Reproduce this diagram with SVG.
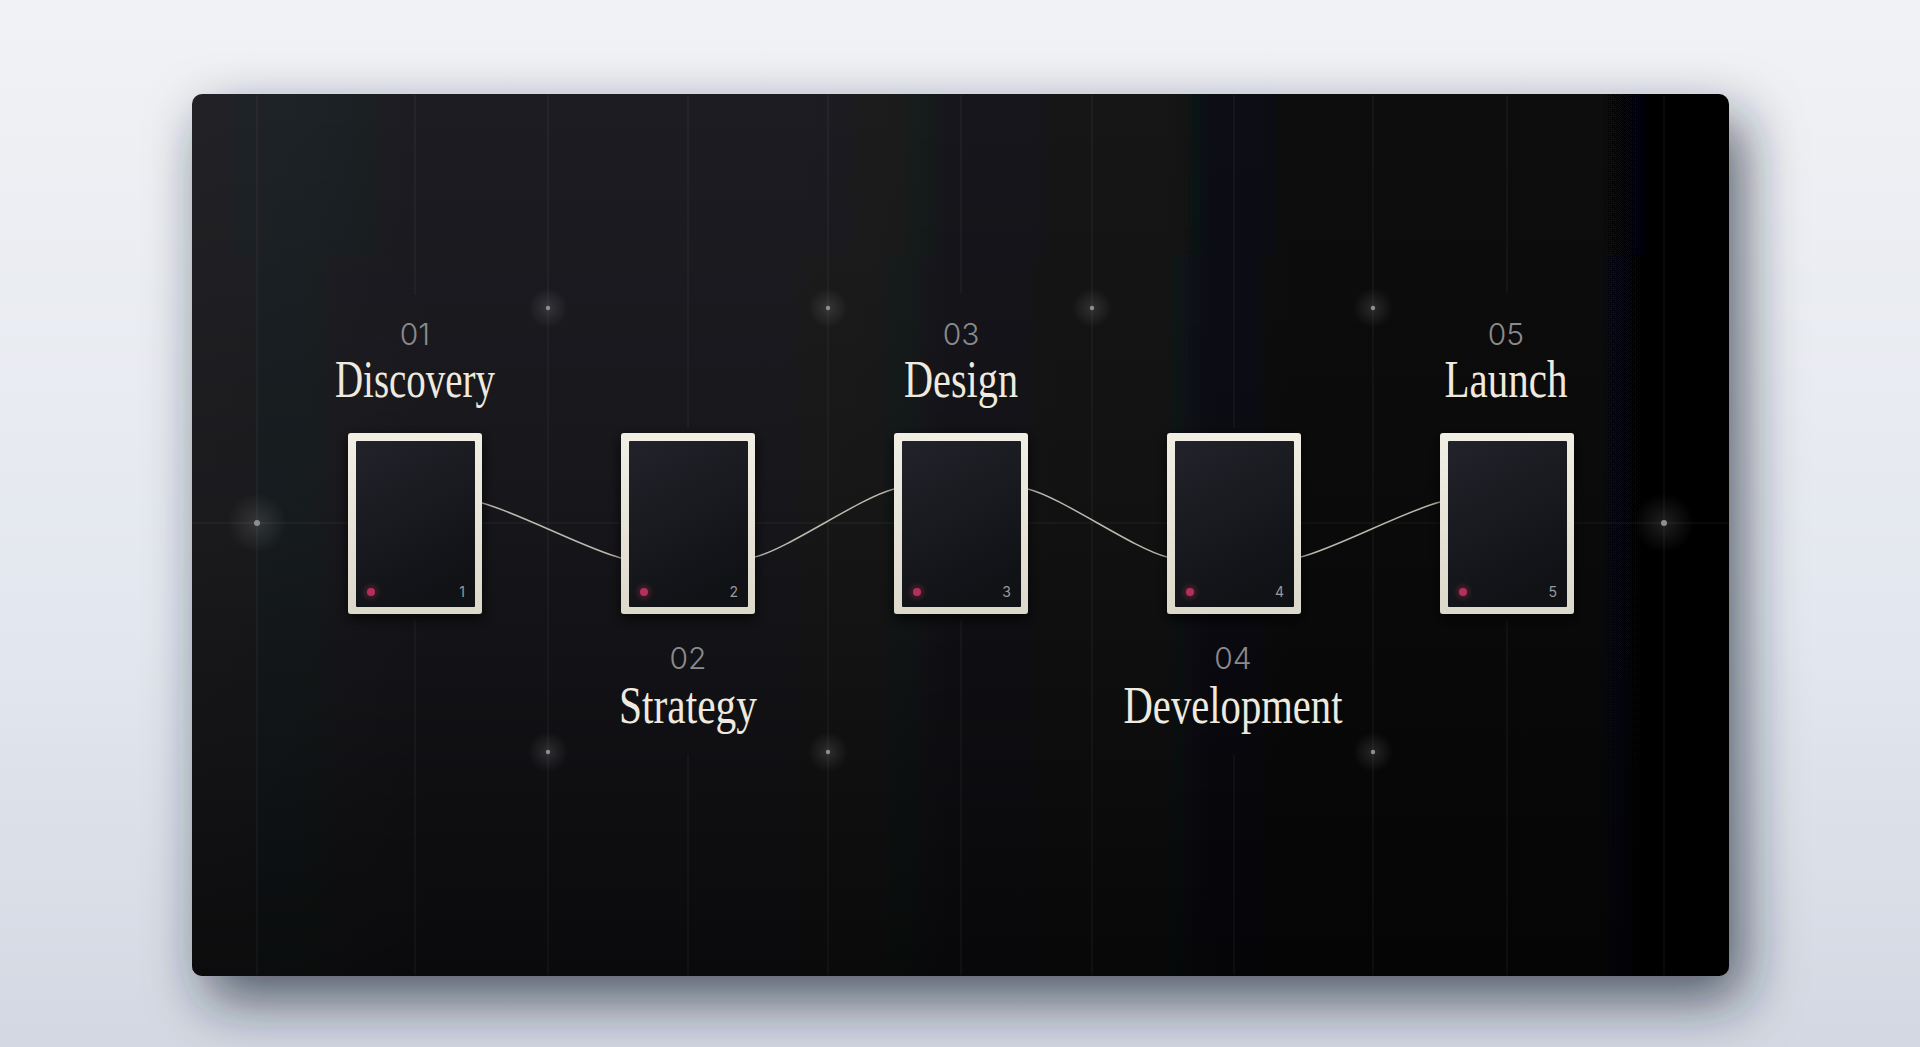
<svg xmlns="http://www.w3.org/2000/svg" width="1920" height="1047" viewBox="0 0 1920 1047">
  <defs>
    <linearGradient id="page" x1="0" y1="0" x2="0" y2="1">
      <stop offset="0" stop-color="#f1f2f5"/>
      <stop offset="0.6" stop-color="#e3e7ef"/>
      <stop offset="1" stop-color="#d3d8e2"/>
    </linearGradient>
    <linearGradient id="panelH" x1="0" y1="0" x2="1" y2="0">
      <stop offset="0" stop-color="#202126"/>
      <stop offset="0.45" stop-color="#1a1b1f"/>
      <stop offset="0.75" stop-color="#0d0d0f"/>
      <stop offset="1" stop-color="#040404"/>
    </linearGradient>
    <linearGradient id="panelV" x1="0" y1="0" x2="0" y2="1">
      <stop offset="0" stop-color="#000000" stop-opacity="0"/>
      <stop offset="0.45" stop-color="#000000" stop-opacity="0.2"/>
      <stop offset="1" stop-color="#000000" stop-opacity="0.65"/>
    </linearGradient>
    <linearGradient id="frame" x1="0" y1="0" x2="0" y2="1">
      <stop offset="0" stop-color="#f1eee4"/>
      <stop offset="1" stop-color="#dcd8ca"/>
    </linearGradient>
    <linearGradient id="inner" x1="0" y1="0" x2="0.4" y2="1">
      <stop offset="0" stop-color="#22232a"/>
      <stop offset="1" stop-color="#111216"/>
    </linearGradient>
    <radialGradient id="glow">
      <stop offset="0" stop-color="#ffffff" stop-opacity="0.12"/>
      <stop offset="1" stop-color="#ffffff" stop-opacity="0"/>
    </radialGradient>
    <radialGradient id="redglow">
      <stop offset="0" stop-color="#d0305a" stop-opacity="0.35"/>
      <stop offset="1" stop-color="#d0305a" stop-opacity="0"/>
    </radialGradient>
    <filter id="panelShadow" x="-10%" y="-10%" width="125%" height="135%">
      <feDropShadow dx="14" dy="24" stdDeviation="28" flood-color="#1c2233" flood-opacity="0.7"/>
    </filter>
    <filter id="cardShadow" x="-30%" y="-30%" width="160%" height="160%">
      <feDropShadow dx="0" dy="5" stdDeviation="7" flood-color="#000000" flood-opacity="0.7"/>
    </filter>
    <style>
      .grid { stroke: #ffffff; stroke-opacity: 0.07; stroke-width: 1; fill: none; }
      .num { font-family: Inter, "Liberation Sans", sans-serif; font-weight: 300; font-size: 30px; fill: #8a8a8c; text-anchor: middle; }
      .title { font-family: "Liberation Serif", "DejaVu Serif", serif; font-size: 53px; fill: #eeeadf; text-anchor: middle; }
      .cnum { font-family: Inter, "Liberation Sans", sans-serif; font-size: 14px; fill: #9a9a9c; text-anchor: end; }
      .conn { stroke: #d9d5c9; stroke-width: 1.5; fill: none; stroke-opacity: 0.85; }
      .dot { fill: #8e8e92; }
    </style>
  </defs>

  <rect x="0" y="0" width="1920" height="1047" fill="url(#page)"/>
  <rect id="panel-bg" x="192" y="94" width="1537" height="882" rx="10" fill="url(#panelH)" filter="url(#panelShadow)"/>
  <rect id="panel-shade" x="192" y="94" width="1537" height="882" rx="10" fill="url(#panelV)"/>

  <g id="grid">
    <line class="grid" x1="192" y1="523" x2="1729" y2="523"/>
    <line class="grid" x1="257" y1="95" x2="257" y2="975"/>
    <line class="grid" x1="548" y1="95" x2="548" y2="975"/>
    <line class="grid" x1="828" y1="95" x2="828" y2="975"/>
    <line class="grid" x1="1092" y1="95" x2="1092" y2="975"/>
    <line class="grid" x1="1373" y1="95" x2="1373" y2="975"/>
    <line class="grid" x1="1664" y1="95" x2="1664" y2="975"/>
    <line class="grid" x1="415" y1="95" x2="415" y2="295"/>
    <line class="grid" x1="415" y1="620" x2="415" y2="975"/>
    <line class="grid" x1="688" y1="95" x2="688" y2="428"/>
    <line class="grid" x1="688" y1="755" x2="688" y2="975"/>
    <line class="grid" x1="961" y1="95" x2="961" y2="293"/>
    <line class="grid" x1="961" y1="620" x2="961" y2="975"/>
    <line class="grid" x1="1234" y1="95" x2="1234" y2="428"/>
    <line class="grid" x1="1234" y1="755" x2="1234" y2="975"/>
    <line class="grid" x1="1507" y1="95" x2="1507" y2="293"/>
    <line class="grid" x1="1507" y1="620" x2="1507" y2="975"/>
  </g>

  <g id="glow-dots">
    <circle cx="257" cy="523" r="30" fill="url(#glow)"/><circle class="dot" cx="257" cy="523" r="3"/>
    <circle cx="1664" cy="523" r="30" fill="url(#glow)"/><circle class="dot" cx="1664" cy="523" r="3"/>
    <circle cx="548" cy="308" r="20" fill="url(#glow)"/><circle class="dot" cx="548" cy="308" r="2.2"/>
    <circle cx="828" cy="308" r="20" fill="url(#glow)"/><circle class="dot" cx="828" cy="308" r="2.2"/>
    <circle cx="1092" cy="308" r="20" fill="url(#glow)"/><circle class="dot" cx="1092" cy="308" r="2.2"/>
    <circle cx="1373" cy="308" r="20" fill="url(#glow)"/><circle class="dot" cx="1373" cy="308" r="2.2"/>
    <circle cx="548" cy="752" r="20" fill="url(#glow)"/><circle class="dot" cx="548" cy="752" r="2.2"/>
    <circle cx="828" cy="752" r="20" fill="url(#glow)"/><circle class="dot" cx="828" cy="752" r="2.2"/>
    <circle cx="1373" cy="752" r="20" fill="url(#glow)"/><circle class="dot" cx="1373" cy="752" r="2.2"/>
  </g>

  <g id="connectors">
    <path class="conn" d="M482 503 C517 512 586 549 621 558"/>
    <path class="conn" d="M755 557 C790 548 859 498 894 489"/>
    <path class="conn" d="M1028 489 C1063 498 1132 548 1167 557"/>
    <path class="conn" d="M1301 557 C1336 548 1405 511 1440 502"/>
  </g>

  <g id="step-1">
    <text class="num" x="415" y="345">01</text>
    <text class="title" x="415" y="397" textLength="160" lengthAdjust="spacingAndGlyphs">Discovery</text>
    <rect x="348" y="433" width="134" height="181" rx="3" fill="url(#frame)" filter="url(#cardShadow)"/>
    <rect x="356" y="441" width="119" height="166" rx="1" fill="url(#inner)"/>
    <circle cx="371" cy="592" r="10" fill="url(#redglow)"/>
    <circle cx="371" cy="592" r="4" fill="#b3305a"/>
    <text class="cnum" x="465" y="597">1</text>
  </g>

  <g id="step-2">
    <rect x="621" y="433" width="134" height="181" rx="3" fill="url(#frame)" filter="url(#cardShadow)"/>
    <rect x="629" y="441" width="119" height="166" rx="1" fill="url(#inner)"/>
    <circle cx="644" cy="592" r="10" fill="url(#redglow)"/>
    <circle cx="644" cy="592" r="4" fill="#b3305a"/>
    <text class="cnum" x="738" y="597">2</text>
    <text class="num" x="688" y="669">02</text>
    <text class="title" x="688" y="723" textLength="138" lengthAdjust="spacingAndGlyphs">Strategy</text>
  </g>

  <g id="step-3">
    <text class="num" x="961" y="345">03</text>
    <text class="title" x="961" y="397" textLength="114" lengthAdjust="spacingAndGlyphs">Design</text>
    <rect x="894" y="433" width="134" height="181" rx="3" fill="url(#frame)" filter="url(#cardShadow)"/>
    <rect x="902" y="441" width="119" height="166" rx="1" fill="url(#inner)"/>
    <circle cx="917" cy="592" r="10" fill="url(#redglow)"/>
    <circle cx="917" cy="592" r="4" fill="#b3305a"/>
    <text class="cnum" x="1011" y="597">3</text>
  </g>

  <g id="step-4">
    <rect x="1167" y="433" width="134" height="181" rx="3" fill="url(#frame)" filter="url(#cardShadow)"/>
    <rect x="1175" y="441" width="119" height="166" rx="1" fill="url(#inner)"/>
    <circle cx="1190" cy="592" r="10" fill="url(#redglow)"/>
    <circle cx="1190" cy="592" r="4" fill="#b3305a"/>
    <text class="cnum" x="1284" y="597">4</text>
    <text class="num" x="1233" y="669">04</text>
    <text class="title" x="1233" y="723" textLength="219" lengthAdjust="spacingAndGlyphs">Development</text>
  </g>

  <g id="step-5">
    <text class="num" x="1506" y="345">05</text>
    <text class="title" x="1506" y="397" textLength="123" lengthAdjust="spacingAndGlyphs">Launch</text>
    <rect x="1440" y="433" width="134" height="181" rx="3" fill="url(#frame)" filter="url(#cardShadow)"/>
    <rect x="1448" y="441" width="119" height="166" rx="1" fill="url(#inner)"/>
    <circle cx="1463" cy="592" r="10" fill="url(#redglow)"/>
    <circle cx="1463" cy="592" r="4" fill="#b3305a"/>
    <text class="cnum" x="1557" y="597">5</text>
  </g>
</svg>
